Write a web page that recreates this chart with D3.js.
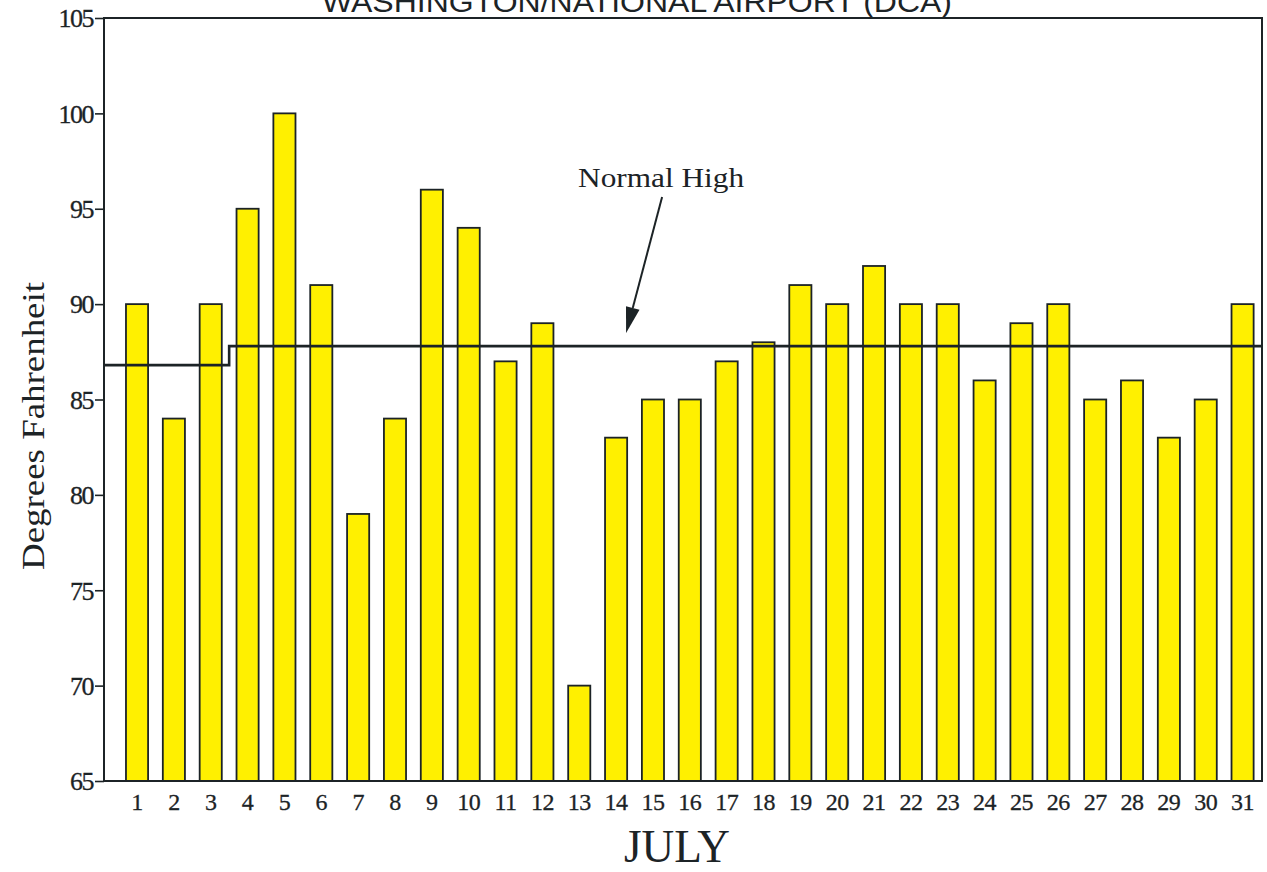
<!DOCTYPE html>
<html>
<head>
<meta charset="utf-8">
<script src="https://cdn.jsdelivr.net/npm/d3@7"></script>
<style>
  body { margin: 0; background: #fff; }
  text { fill: #1c2326; }
</style>
</head>
<body>
<div id="chart"></div>
<script>
// daily high temperatures, July, Washington National
const days = d3.range(1, 32).map(String);
const highs = [90, 84, 90, 95, 100, 91, 79, 84, 96, 94, 87, 89, 70, 83, 85, 85,
               87, 88, 91, 90, 92, 90, 90, 86, 89, 90, 85, 86, 83, 85, 90];
const normalHigh = [86.8, 86.8, 86.8, 87.8, 87.8, 87.8, 87.8, 87.8, 87.8, 87.8, 87.8,
                    87.8, 87.8, 87.8, 87.8, 87.8, 87.8, 87.8, 87.8, 87.8, 87.8, 87.8,
                    87.8, 87.8, 87.8, 87.8, 87.8, 87.8, 87.8, 87.8, 87.8];
const yTicks = [65, 70, 75, 80, 85, 90, 95, 100, 105];

const W = 1267, H = 872;
const plot = {left: 104, right: 1262, top: 18, bottom: 781};
const ink = "#1c2326";
const serif = "Liberation Serif, Times New Roman, serif";

const svg = d3.select("#chart")
  .append("svg")
    .attr("width", W)
    .attr("height", H);

const x = d3.scaleBand()
  .domain(days)
  .range([118.6, 1261])
  .paddingInner(0.4)
  .paddingOuter(0.2);

const y = d3.scaleLinear()
  .domain([65, 105])
  .range([plot.bottom, plot.top]);

// bars
svg.append("g")
  .selectAll("rect")
  .data(highs)
  .join("rect")
    .attr("x", (d, i) => x(days[i]))
    .attr("y", d => y(d))
    .attr("width", x.bandwidth())
    .attr("height", d => y(65) - y(d))
    .attr("fill", "#fff000")
    .attr("stroke", ink)
    .attr("stroke-width", 1.8);

// normal high step line (from axis to right frame)
const stepPts = normalHigh.map((d, i) => [i === 0 ? plot.left : x(days[i]) - x.step() * x.paddingInner() / 2, d]);
stepPts.push([plot.right, normalHigh[normalHigh.length - 1]]);
svg.append("path")
  .datum(stepPts)
  .attr("d", d3.line()
    .x(d => d[0])
    .y(d => y(d[1]))
    .curve(d3.curveStepAfter))
  .attr("fill", "none")
  .attr("stroke", ink)
  .attr("stroke-width", 2.6);

// frame
svg.append("rect")
  .attr("x", plot.left)
  .attr("y", plot.top)
  .attr("width", plot.right - plot.left)
  .attr("height", plot.bottom - plot.top)
  .attr("fill", "none")
  .attr("stroke", ink)
  .attr("stroke-width", 2);

// y axis
const yAxis = svg.append("g")
  .attr("transform", `translate(${plot.left},0)`)
  .call(d3.axisLeft(y).tickValues(yTicks).tickSize(9).tickPadding(2));
yAxis.select(".domain").remove();
yAxis.selectAll("line").attr("stroke", ink).attr("stroke-width", 1.6);
yAxis.selectAll("text")
  .attr("font-family", serif)
  .attr("font-size", 26)
  .attr("fill", ink)
  .attr("stroke", ink)
  .attr("stroke-width", 0.3)
  .attr("dy", "0.34em")
  .attr("letter-spacing", -1.5);

// x axis
const xAxis = svg.append("g")
  .attr("transform", `translate(0,${plot.bottom})`)
  .call(d3.axisBottom(x).tickSize(0).tickPadding(12));
xAxis.select(".domain").remove();
xAxis.selectAll("text")
  .attr("font-family", serif)
  .attr("font-size", 24)
  .attr("fill", ink)
  .attr("stroke", ink)
  .attr("stroke-width", 0.3)
  .attr("letter-spacing", -0.5);

// labels
svg.append("text")
  .attr("x", 637)
  .attr("y", 12)
  .attr("text-anchor", "middle")
  .attr("font-family", "Liberation Sans, Arial, sans-serif")
  .attr("font-size", 30)
  .attr("textLength", 630)
  .attr("lengthAdjust", "spacingAndGlyphs")
  .text("WASHINGTON/NATIONAL AIRPORT (DCA)");

svg.append("text")
  .attr("transform", `translate(44,${(282 + 570) / 2}) rotate(-90)`)
  .attr("text-anchor", "middle")
  .attr("font-family", serif)
  .attr("font-size", 31)
  .attr("textLength", 288)
  .attr("lengthAdjust", "spacingAndGlyphs")
  .text("Degrees Fahrenheit");

svg.append("text")
  .attr("x", 677)
  .attr("y", 862)
  .attr("text-anchor", "middle")
  .attr("font-family", serif)
  .attr("font-size", 46)
  .attr("textLength", 106)
  .attr("lengthAdjust", "spacingAndGlyphs")
  .text("JULY");

// "Normal High" annotation with arrow
const tipX = x("14") + x.bandwidth() / 2 + 10;
const tipY = y(normalHigh[13]) - 13;
const tailX = tipX + 36, tailY = tipY - 136;

svg.append("text")
  .attr("x", tailX - 1)
  .attr("y", tailY - 10)
  .attr("text-anchor", "middle")
  .attr("font-family", serif)
  .attr("font-size", 28)
  .attr("textLength", 166)
  .attr("lengthAdjust", "spacingAndGlyphs")
  .text("Normal High");

const ang = Math.atan2(tipY - tailY, tipX - tailX);
const headLen = 26, headW = 7;
const baseX = tipX - headLen * Math.cos(ang), baseY = tipY - headLen * Math.sin(ang);
svg.append("line")
  .attr("x1", tailX).attr("y1", tailY)
  .attr("x2", baseX).attr("y2", baseY)
  .attr("stroke", ink)
  .attr("stroke-width", 2);
svg.append("path")
  .attr("d", d3.line()([
    [tipX, tipY],
    [baseX + headW * Math.sin(ang), baseY - headW * Math.cos(ang)],
    [baseX - headW * Math.sin(ang), baseY + headW * Math.cos(ang)]
  ]) + "Z")
  .attr("fill", ink);
</script>
</body>
</html>
